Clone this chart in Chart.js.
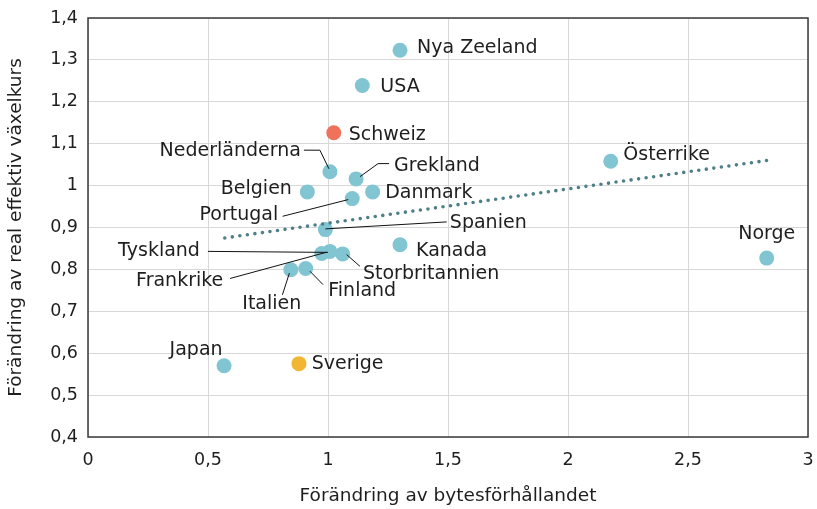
<!DOCTYPE html>
<html lang="sv">
<head>
<meta charset="utf-8">
<script src="https://cdn.jsdelivr.net/npm/chart.js@4.4.1/dist/chart.umd.min.js"></script>
<style>
  html, body { margin: 0; padding: 0; background: #fff; }
</style>
</head>
<body>
<canvas id="chart" width="817" height="509"></canvas>
<script>
"use strict";

// data
const countries = ["Nya Zeeland", "USA", "Schweiz", "Nederländerna", "Grekland", "Belgien", "Danmark",
    "Portugal", "Spanien", "Kanada", "Frankrike", "Tyskland", "Storbritannien", "Italien", "Finland",
    "Japan", "Sverige", "Österrike", "Norge"];
const bytesforhallande = [1.30, 1.143, 1.024, 1.008, 1.117, 0.914, 1.186,
    1.101, 0.989, 1.30, 0.974, 1.008, 1.061, 0.845, 0.907,
    0.567, 0.879, 2.178, 2.828];
const vaxelkurs = [1.323, 1.239, 1.126, 1.033, 1.016, 0.985, 0.985,
    0.969, 0.895, 0.859, 0.838, 0.843, 0.837, 0.799, 0.802,
    0.570, 0.575, 1.058, 0.827];
const trendX = [0.57, 2.83];
const trendY = [0.875, 1.06];
const xTickLabels = ["0", "0,5", "1", "1,5", "2", "2,5", "3"];
const yTickLabels = ["0,4", "0,5", "0,6", "0,7", "0,8", "0,9", "1", "1,1", "1,2", "1,3", "1,4"];

const COLOR_POINT = "#82c5d2";
const COLOR_SCHWEIZ = "#f0725a";
const COLOR_SVERIGE = "#f2b632";
const COLOR_TREND = "#4e7f88";
const COLOR_TEXT = "#1e1e1e";
const COLOR_GRID = "#d8d8d8";
const FONT = "'DejaVu Sans', sans-serif";

// label offsets from the point centre (baseline), with optional leader lines
const labelPlacement = {
    "Nya Zeeland":    {dx: 17, dy: 3, align: "left"},
    "USA":            {dx: 18, dy: 7, align: "left"},
    "Schweiz":        {dx: 15, dy: 7.5, align: "left"},
    "Nederländerna":  {dx: -29, dy: -16, align: "right", leader: [[-26, -21.6], [-10, -21.6], [-1, -3]]},
    "Grekland":       {dx: 38, dy: -7.5, align: "left", leader: [[33, -15.3], [22, -15.3], [4, -2.3]]},
    "Belgien":        {dx: -15.5, dy: 2, align: "right"},
    "Danmark":        {dx: 12.5, dy: 6, align: "left"},
    "Portugal":       {dx: -74, dy: 21, align: "right", leader: [[-69.6, 17.7], [-4, 1]]},
    "Spanien":        {dx: 124.5, dy: -1.5, align: "left", leader: [[121.4, -7.7], [0, -0.7]]},
    "Kanada":         {dx: 16, dy: 11, align: "left"},
    "Frankrike":      {dx: -98.5, dy: 33, align: "right", leader: [[-91.7, 25], [5, -1.3]]},
    "Tyskland":       {dx: -130, dy: 4.5, align: "right", leader: [[-122, 0], [-2, 1]]},
    "Storbritannien": {dx: 20.3, dy: 25, align: "left", leader: [[17.3, 12.4], [4, 0.7]]},
    "Italien":        {dx: -19, dy: 39, align: "center", leader: [[-8.4, 25], [-1.4, 3.3]]},
    "Finland":        {dx: 22.6, dy: 27.7, align: "left", leader: [[17.3, 16], [4.3, 2.7]]},
    "Japan":          {dx: -28, dy: -11, align: "center"},
    "Sverige":        {dx: 12.7, dy: 5, align: "left"},
    "Österrike":      {dx: 12.6, dy: -1, align: "left"},
    "Norge":          {dx: 0, dy: -19.3, align: "center"}
};

const pointColor = name => name === "Schweiz" ? COLOR_SCHWEIZ : name === "Sverige" ? COLOR_SVERIGE : COLOR_POINT;

const frame = {
    id: "frame",
    beforeDatasetsDraw (chart) {
        const {ctx, chartArea: a} = chart;
        ctx.save();
        ctx.strokeStyle = "#3a3a3a";
        ctx.lineWidth = 1.5;
        ctx.strokeRect(a.left, a.top, a.right - a.left, a.bottom - a.top);
        ctx.restore();
    }
};

const countryLabels = {
    id: "countryLabels",
    afterDatasetsDraw (chart) {
        const ctx = chart.ctx, meta = chart.getDatasetMeta(0);
        ctx.save();
        ctx.font = "19px " + FONT;
        ctx.fillStyle = COLOR_TEXT;
        ctx.strokeStyle = "#111";
        ctx.lineWidth = 1;
        ctx.textBaseline = "alphabetic";
        meta.data.forEach((pt, i) => {
            const p = labelPlacement[countries[i]];
            if (p.leader) {
                ctx.beginPath();
                p.leader.forEach(([lx, ly], j) => ctx[j ? "lineTo" : "moveTo"](pt.x + lx, pt.y + ly));
                ctx.stroke();
            }
            ctx.textAlign = p.align;
            ctx.fillText(countries[i], pt.x + p.dx, pt.y + p.dy);
        });
        ctx.restore();
    }
};

const tickFont = {family: FONT, size: 17.5};
const titleFont = {family: FONT, size: 18.5};

new Chart(document.getElementById("chart"), {
    type: "scatter",
    data: {
        datasets: [{
            data: countries.map((c, i) => ({x: bytesforhallande[i], y: vaxelkurs[i]})),
            backgroundColor: countries.map(pointColor),
            borderWidth: 0,
            pointRadius: 7.5,
            order: 1
        }, {
            data: trendX.map((x, i) => ({x, y: trendY[i]})),
            showLine: true,
            borderColor: COLOR_TREND,
            borderWidth: 3.6,
            borderDash: [0, 7.6],
            borderCapStyle: "round",
            pointRadius: 0,
            order: 0
        }]
    },
    options: {
        responsive: false,
        animation: false,
        layout: {padding: {top: 18, right: 9, left: 0, bottom: 0}},
        plugins: {legend: {display: false}, tooltip: {enabled: false}},
        scales: {
            x: {
                type: "linear", min: 0, max: 3,
                afterFit: scale => { scale.height = 72; },
                grid: {color: COLOR_GRID, drawTicks: true, tickLength: 13, tickColor: "rgba(0,0,0,0)"},
                border: {display: false},
                ticks: {stepSize: 0.5, padding: 0, color: COLOR_TEXT, font: tickFont,
                    callback: (v, i) => xTickLabels[i]},
                title: {display: true, text: "Förändring av bytesförhållandet", color: COLOR_TEXT,
                    font: titleFont, padding: {top: 0, bottom: 2}}
            },
            y: {
                type: "linear", min: 0.4, max: 1.4,
                afterFit: scale => { scale.width = 88; },
                grid: {color: COLOR_GRID, drawTicks: true, tickLength: 10, tickColor: "rgba(0,0,0,0)"},
                border: {display: false},
                ticks: {stepSize: 0.1, padding: 0, color: COLOR_TEXT, font: tickFont,
                    callback: (v, i) => yTickLabels[i]},
                title: {display: true, text: "Förändring av real effektiv växelkurs", color: COLOR_TEXT,
                    font: titleFont, padding: {top: 5.5, bottom: 0}}
            }
        }
    },
    plugins: [frame, countryLabels]
});
</script>
</body>
</html>
